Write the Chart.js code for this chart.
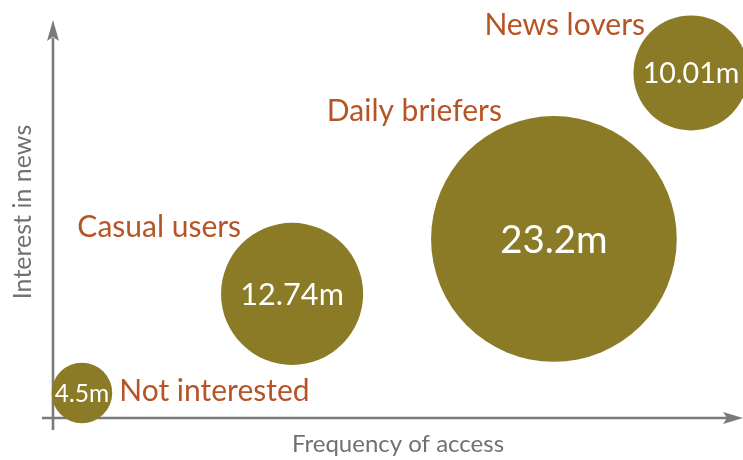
<!DOCTYPE html>
<html>
<head>
<meta charset="utf-8">
<script src="https://cdn.jsdelivr.net/npm/chart.js@4/dist/chart.umd.min.js"></script>
<style>
  html, body { margin: 0; padding: 0; background: #ffffff; }
  #wrap { width: 743px; height: 460px; }
</style>
</head>
<body>
<div id="wrap"><canvas id="chart" width="743" height="460"></canvas></div>
<script>
// ---- data ----
const segments = ['Not interested', 'Casual users', 'Daily briefers', 'News lovers'];
const frequencyOfAccess = [4.2, 34.7, 72.7, 92.6];   // x, 0-100 arbitrary scale
const interestInNews = [6.3, 31.2, 45.0, 86.7];      // y, 0-100 arbitrary scale
const audienceMillions = [4.5, 12.74, 23.2, 10.01];
const valueLabels = ['4.5m', '12.74m', '23.2m', '10.01m'];
const xAxisTitle = 'Frequency of access';
const yAxisTitle = 'Interest in news';

// ---- styling ----
const BUBBLE = '#8b7b26';
const LABEL = '#b75426';
const AXIS = '#7a7a7a';
const TITLE = '#717171';
const FONT = 'Lato, "Open Sans", sans-serif';

function bubbleRadius(v) { return 4.95 * v + 8; }

const points = audienceMillions.map((v, i) => ({
  x: frequencyOfAccess[i], y: interestInNews[i], r: bubbleRadius(v)
}));

// label placement relative to each bubble (annotation layout, not data)
const labelLayout = [
  { align: 'left',  dx: (p) => p.r + 7, dy: (p) => 8 },
  { align: 'right', dx: () => -51,      dy: (p) => -57 },
  { align: 'right', dx: () => -52,      dy: (p) => -118 },
  { align: 'right', dx: () => -46,      dy: (p) => -38 }
];

const overlay = {
  id: 'overlay',
  beforeDatasetsDraw(chart) {
    const ctx = chart.ctx;
    const xs = chart.scales.x, ys = chart.scales.y;
    const x0 = xs.getPixelForValue(0), y0 = ys.getPixelForValue(0);
    const xEnd = chart.chartArea.right + 1, yEnd = chart.chartArea.top;
    ctx.save();
    ctx.strokeStyle = AXIS;
    ctx.fillStyle = AXIS;
    ctx.lineWidth = 2.6;
    // y axis
    ctx.beginPath();
    ctx.moveTo(x0, y0 + 12);
    ctx.lineTo(x0, yEnd + 18);
    ctx.stroke();
    ctx.beginPath();
    ctx.moveTo(x0, yEnd);
    ctx.lineTo(x0 - 6, yEnd + 21);
    ctx.lineTo(x0, yEnd + 17);
    ctx.lineTo(x0 + 6, yEnd + 21);
    ctx.closePath();
    ctx.fill();
    // x axis
    ctx.beginPath();
    ctx.moveTo(x0 - 11, y0);
    ctx.lineTo(xEnd - 16, y0);
    ctx.stroke();
    ctx.beginPath();
    ctx.moveTo(xEnd, y0);
    ctx.lineTo(xEnd - 20, y0 - 6);
    ctx.lineTo(xEnd - 16, y0);
    ctx.lineTo(xEnd - 20, y0 + 6);
    ctx.closePath();
    ctx.fill();
    // axis titles
    ctx.fillStyle = TITLE;
    ctx.font = '24px ' + FONT;
    ctx.textAlign = 'center';
    ctx.textBaseline = 'alphabetic';
    ctx.fillText(xAxisTitle, (x0 + xEnd) / 2, y0 + 34);
    ctx.save();
    ctx.translate(x0 - 22, (y0 + yEnd) / 2 - 7);
    ctx.rotate(-Math.PI / 2);
    ctx.font = '25px ' + FONT;
    ctx.fillText(yAxisTitle, 0, 0);
    ctx.restore();
    ctx.restore();
  },
  afterDatasetsDraw(chart) {
    const ctx = chart.ctx;
    const meta = chart.getDatasetMeta(0);
    ctx.save();
    meta.data.forEach((el, i) => {
      const p = { x: el.x, y: el.y, r: el.options.radius };
      // value inside bubble
      const fs = 20 + 0.15 * p.r;
      ctx.font = fs + 'px ' + FONT;
      ctx.fillStyle = '#ffffff';
      ctx.textAlign = 'center';
      ctx.textBaseline = 'alphabetic';
      ctx.fillText(valueLabels[i], p.x, p.y + fs * 0.36);
      // segment label
      const L = labelLayout[i];
      ctx.font = '30px ' + FONT;
      ctx.fillStyle = LABEL;
      ctx.textAlign = L.align;
      ctx.fillText(segments[i], p.x + L.dx(p), p.y + L.dy(p));
    });
    ctx.restore();
  }
};

new Chart(document.getElementById('chart'), {
  type: 'bubble',
  data: {
    datasets: [{
      label: 'Audience',
      data: points,
      backgroundColor: BUBBLE,
      borderWidth: 0,
      hoverBorderWidth: 0,
      clip: false
    }]
  },
  options: {
    responsive: false,
    animation: false,
    devicePixelRatio: 1,
    layout: { autoPadding: false, padding: { left: 53, right: 1, top: 20, bottom: 42 } },
    plugins: { legend: { display: false }, tooltip: { enabled: false } },
    scales: {
      x: { type: 'linear', min: 0, max: 100, display: false },
      y: { type: 'linear', min: 0, max: 100, display: false }
    }
  },
  plugins: [overlay]
});
</script>
</body>
</html>
